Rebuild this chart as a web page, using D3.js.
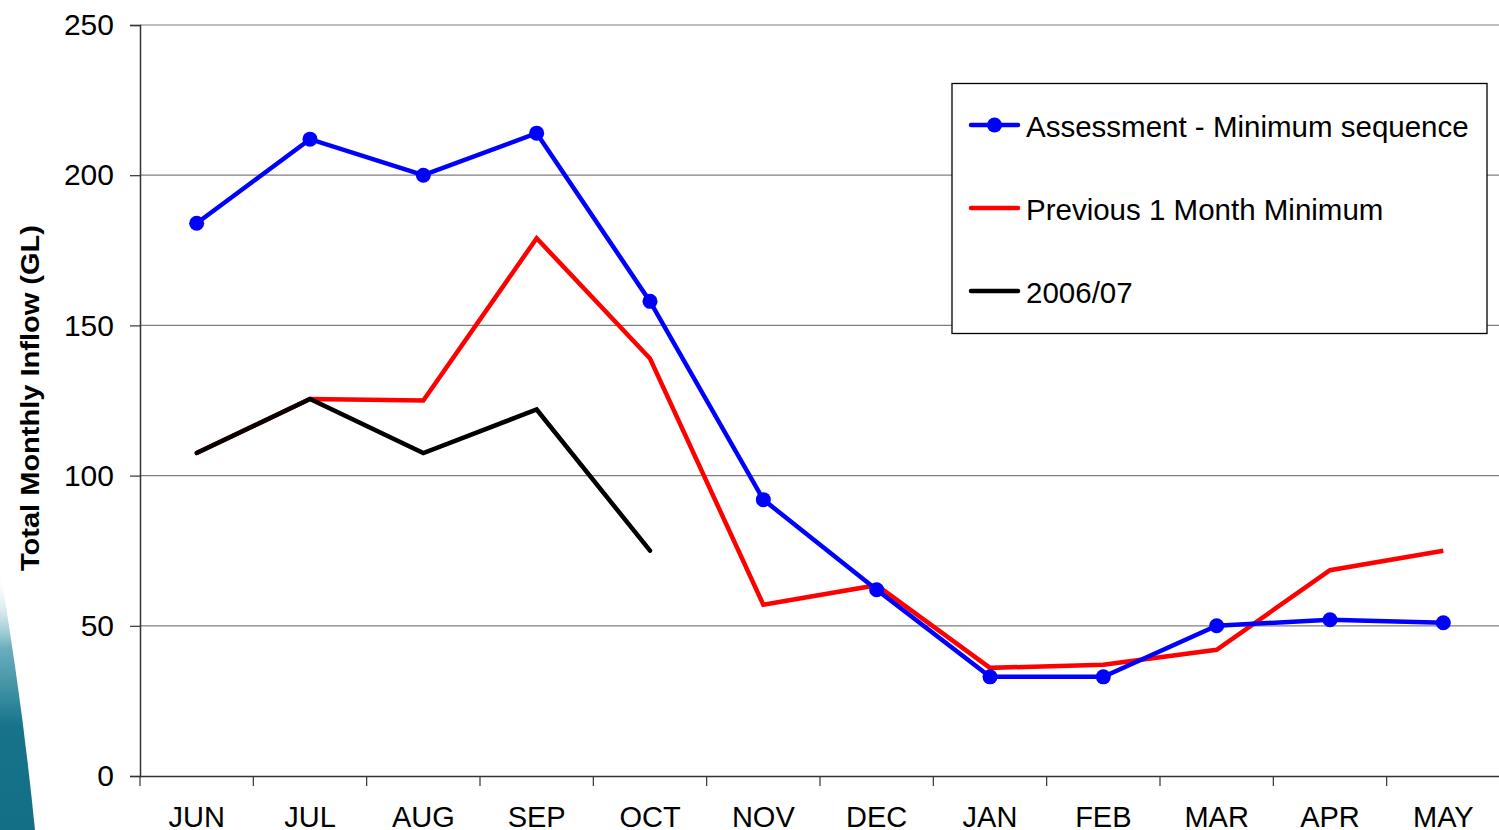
<!DOCTYPE html>
<html><head><meta charset="utf-8">
<script src="https://cdn.jsdelivr.net/npm/d3@7"></script>
<style>body{margin:0;background:#fff;overflow:hidden}svg{display:block}</style>
</head><body>
<script>
const months = ["JUN","JUL","AUG","SEP","OCT","NOV","DEC","JAN","FEB","MAR","APR","MAY"];
const assessment = [184,212,200,214,158,92,62,33,33,50,52,51];
const previous = [107.5,125.5,125,179,139,57,63.5,36,37,42,68.5,75];
const season0607 = [107.5,125.5,107.5,122,75,null,null,null,null,null,null,null];
const yTicks = [0,50,100,150,200,250];
const seriesNames = ["Assessment - Minimum sequence","Previous 1 Month Minimum","2006/07"];

const W=1499,H=830;
const FONT="Liberation Sans, Arial, sans-serif";
const svg=d3.select("body").append("svg").attr("width",W).attr("height",H);
const defs=svg.append("defs");
const g1=defs.append("linearGradient").attr("id","sw").attr("x1",0).attr("y1",0).attr("x2",0).attr("y2",1);
g1.append("stop").attr("offset","0").attr("stop-color","#ffffff").attr("stop-opacity",0);
g1.append("stop").attr("offset","0.3").attr("stop-color","#2a8ca0").attr("stop-opacity",0.7);
g1.append("stop").attr("offset","0.6").attr("stop-color","#17738a");
g1.append("stop").attr("offset","1").attr("stop-color","#136f86");
svg.append("path").attr("d","M0,570 L0,830 L35,830 Q22,700 0,570 Z").attr("fill","url(#sw)");

const x=d3.scaleBand().domain(months).range([140,1500]);
const y=d3.scaleLinear().domain([0,250]).range([776,25]);
const cx=d=>x(d)+x.bandwidth()/2;

// gridlines
svg.append("g").selectAll("line").data(yTicks.filter(v=>v>0)).join("line")
 .attr("x1",140).attr("x2",1500).attr("y1",d=>y(d)).attr("y2",d=>y(d))
 .attr("stroke","#7f7f7f").attr("stroke-width",1.2);

// y axis
const ya=svg.append("g").attr("transform","translate(140,0)").call(d3.axisLeft(y).tickValues(yTicks).tickSize(10).tickPadding(16));
ya.select(".domain").attr("stroke","#333").attr("stroke-width",1.5);
ya.selectAll(".tick line").attr("stroke","#333").attr("stroke-width",1.2);
ya.selectAll("text").attr("font-family",FONT).attr("font-size",30).attr("fill","#000");

// x axis
const xa=svg.append("g").attr("transform","translate(0,776)").call(d3.axisBottom(x).tickSize(0).tickPadding(0));
xa.select(".domain").attr("stroke","#333").attr("stroke-width",1.5);
xa.selectAll(".tick text").attr("font-family",FONT).attr("font-size",29).attr("fill","#000").attr("dy",null).attr("y",51);
svg.append("g").selectAll("line").data(months).join("line")
 .attr("x1",d=>x(d)).attr("x2",d=>x(d)).attr("y1",776).attr("y2",786).attr("stroke","#333").attr("stroke-width",1.2);

// y label
svg.append("text").attr("transform","translate(39,398) rotate(-90)").attr("text-anchor","middle")
 .attr("font-family",FONT).attr("font-weight","bold").attr("font-size",25)
 .attr("textLength",346).attr("lengthAdjust","spacingAndGlyphs").text("Total Monthly Inflow (GL)");

const line=d3.line().defined(d=>d.v!=null).x(d=>cx(d.m)).y(d=>y(d.v));
const mk=arr=>months.map((m,i)=>({m,v:arr[i]}));
svg.append("path").datum(mk(previous)).attr("d",line).attr("fill","none").attr("stroke","#ff0000").attr("stroke-width",4.5);
svg.append("path").datum(mk(season0607)).attr("d",line).attr("fill","none").attr("stroke","#000").attr("stroke-width",4.5).attr("stroke-linecap","round");
svg.append("path").datum(mk(assessment)).attr("d",line).attr("fill","none").attr("stroke","#0000ff").attr("stroke-width",4.5);
svg.append("g").selectAll("circle").data(mk(assessment)).join("circle")
 .attr("cx",d=>cx(d.m)).attr("cy",d=>y(d.v)).attr("r",7.5).attr("fill","#0000ff");

// legend
const lg=svg.append("g");
lg.append("rect").attr("x",952).attr("y",83.5).attr("width",535).attr("height",250).attr("fill","#fff").attr("stroke","#000").attr("stroke-width",1.3);
const cols=["#0000ff","#ff0000","#000000"];
const ly=[125,208,291];
seriesNames.forEach((n,i)=>{
  lg.append("line").attr("x1",971).attr("x2",1018).attr("y1",ly[i]).attr("y2",ly[i]).attr("stroke",cols[i]).attr("stroke-width",4.5).attr("stroke-linecap","round");
  if(i===0) lg.append("circle").attr("cx",994.5).attr("cy",ly[i]).attr("r",7.5).attr("fill",cols[i]);
  lg.append("text").attr("x",1026).attr("y",ly[i]+12).attr("font-family",FONT).attr("font-size",29.5).text(n);
});
</script>
</body></html>
